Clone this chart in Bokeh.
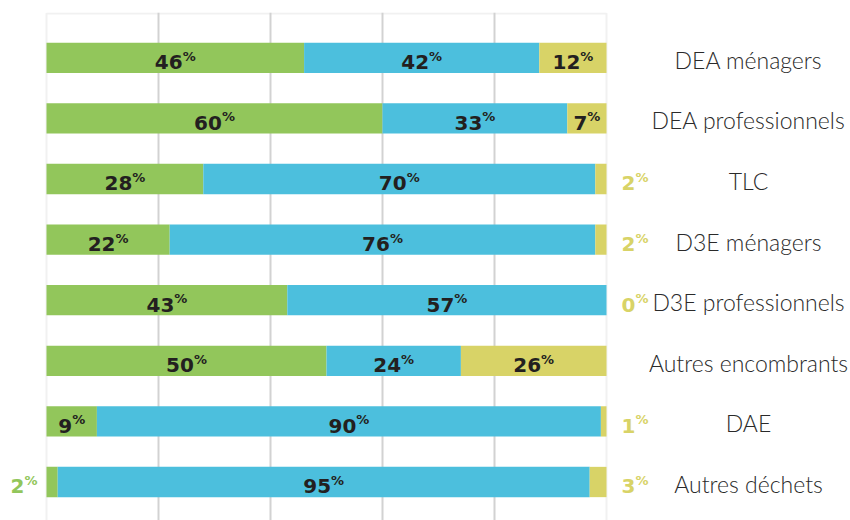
from bokeh.plotting import figure
from bokeh.models import ColumnDataSource, Range1d, FixedTicker, BoxAnnotation, Grid
from bokeh.core.properties import value
from bokeh.embed import file_html
from bokeh.resources import INLINE

# ---------------- data ----------------
categories = ["DEA ménagers", "DEA professionnels", "TLC", "D3E ménagers",
              "D3E professionnels", "Autres encombrants", "DAE", "Autres déchets"]
part_green = [46, 60, 28, 22, 43, 50, 9, 2]
part_blue = [42, 33, 70, 76, 57, 24, 90, 95]
part_yellow = [12, 7, 2, 2, 0, 26, 1, 3]
x_ticks = [0, 20, 40, 60, 80, 100]

# ---------------- style ----------------
GREEN = "#92c65b"
BLUE = "#4cbfdd"
YELLOW = "#d8d367"
DARK = "#231f20"
LABEL_COLOR = "#2a2a2a"
GRID_COLOR = "#d2d2d2"

W, H = 850, 520
TOP_BORDER = 12           # px above frame
PX_X = 5.6                # px per percent
X0_PX = 46                # px from figure left to x=0
ROW_PX = 60.6             # px per row
ROW0_PX = 45.3            # px from frame top to first row centre
FRAME_H = H - TOP_BORDER

x_start = -X0_PX / PX_X
x_end = (W - X0_PX) / PX_X
y_top = -ROW0_PX / ROW_PX
y_bottom = (FRAME_H - ROW0_PX) / ROW_PX

LABEL_X = (748 - X0_PX) / PX_X   # centre of category labels (layout)
BAR_H = 0.5

p = figure(width=W, height=H, output_backend="svg", toolbar_location=None,
           x_range=Range1d(x_start, x_end), y_range=Range1d(y_bottom, y_top),
           x_axis_location=None, y_axis_location=None,
           min_border_left=0, min_border_right=0, min_border_bottom=0,
           min_border_top=TOP_BORDER)
p.outline_line_color = None
p.grid.visible = False
p.background_fill_color = "white"

# frame border (left / top / right) and inner grid lines
p.add_layout(BoxAnnotation(left=x_ticks[0], right=x_ticks[-1],
                           top=y_top + 1.0 / ROW_PX, bottom=y_bottom + 2,
                           fill_color=None, line_color=GRID_COLOR, line_width=2,
                           level="underlay"))
p.add_layout(Grid(dimension=0, ticker=FixedTicker(ticks=x_ticks[1:-1]),
                  bounds=(x_ticks[0], x_ticks[-1]),
                  grid_line_color=GRID_COLOR, grid_line_width=2))

ys = list(range(len(categories)))
l1 = [0] * len(ys)
r1 = [g for g in part_green]
r2 = [g + b for g, b in zip(part_green, part_blue)]
r3 = [g + b + y for g, b, y in zip(part_green, part_blue, part_yellow)]

src = ColumnDataSource(dict(y=ys, l1=l1, r1=r1, r2=r2, r3=r3))
p.hbar(y="y", left="l1", right="r1", height=BAR_H, fill_color=GREEN, line_color=None, source=src)
p.hbar(y="y", left="r1", right="r2", height=BAR_H, fill_color=BLUE, line_color=None, source=src)
p.hbar(y="y", left="r2", right="r3", height=BAR_H, fill_color=YELLOW, line_color=None, source=src)

# value labels: number right-aligned + small superscript "%" left-aligned
DIGIT_W = 13.9
PCT_W = 13.0
lab = dict(x=[], y=[], num=[], pct=[], color=[], off=[])
series = [(part_green, l1, r1, GREEN, "left"),
          (part_blue, r1, r2, BLUE, None),
          (part_yellow, r2, r3, YELLOW, "right")]
for vals, lefts, rights, col, outside in series:
    for i, v in enumerate(vals):
        num_w = DIGIT_W * len(str(v))
        if v >= 5 or outside is None:
            x = (lefts[i] + rights[i]) / 2
            off = (num_w - PCT_W) / 2
            c = DARK
        elif outside == "right":
            x = x_ticks[-1]
            off = 15 + num_w
            c = col
        else:
            x = x_ticks[0]
            off = -(9 + PCT_W)
            c = col
        lab["x"].append(x)
        lab["y"].append(ys[i])
        lab["num"].append(str(v))
        lab["pct"].append("%")
        lab["color"].append(c)
        lab["off"].append(off)
lsrc = ColumnDataSource(lab)
p.text(x="x", y="y", text="num", source=lsrc, text_color="color",
       text_font=value("DejaVu Sans"), text_font_style="bold", text_font_size="20px",
       text_align="right", text_baseline="alphabetic", x_offset="off", y_offset=4.4)
p.text(x="x", y="y", text="pct", source=lsrc, text_color="color",
       text_font=value("DejaVu Sans"), text_font_style="bold", text_font_size="13px",
       text_align="left", text_baseline="alphabetic", x_offset="off", y_offset=-1.6)

# category labels on the right
csrc = ColumnDataSource(dict(x=[LABEL_X] * len(ys), y=ys, t=categories))
p.text(x="x", y="y", text="t", source=csrc, text_color=LABEL_COLOR,
       text_font=value("Lato Light, Lato"), text_font_size="23px",
       text_align="center", text_baseline="alphabetic", y_offset=2)

open("out.html", "w").write(file_html(p, INLINE))
